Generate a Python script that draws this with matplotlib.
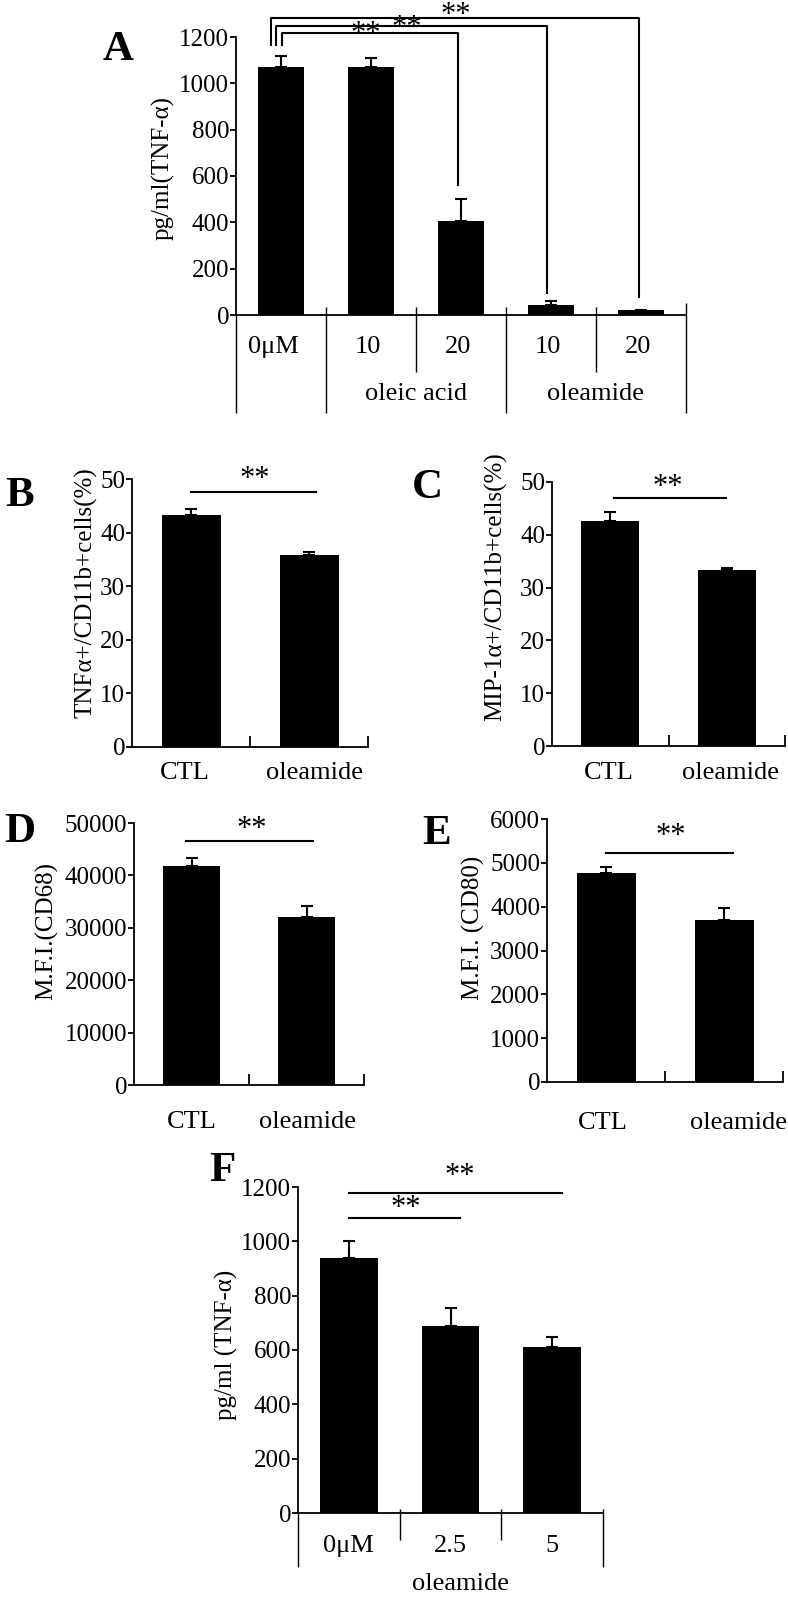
import numpy as np
import matplotlib
matplotlib.use('Agg')
import matplotlib.pyplot as plt

plt.rcParams['font.family'] = ['Liberation Serif', 'DejaVu Serif']
plt.rcParams['font.size'] = 18

# ---- data ----
a_cats = ['0μM', '10', '20', '10', '20']
a_groups = ['oleic acid', 'oleamide']
a_mean = [1070, 1070, 407, 42, 22]
a_err = [50, 40, 92, 18, 0]

two_cats = ['CTL', 'oleamide']
b_mean = [43.3, 35.8]
b_err = [1.1, 0.6]
c_mean = [42.6, 33.3]
c_err = [1.7, 0.4]
d_mean = [41700, 32000]
d_err = [1700, 2100]
e_mean = [4770, 3700]
e_err = [130, 270]

f_cats = ['0μM', '2.5', '5']
f_mean = [939, 688, 611]
f_err = [62, 67, 37]

W, H = 788, 1600
TICK_FS = 18
CAT_FS = 19
YLAB_FS = 18
LETTER_FS = 31
STAR_FS = 22

fig = plt.figure(figsize=(W / 100, H / 100), dpi=100)


def box(x0, x1, ytop, ybot):
    return [x0 / W, 1 - ybot / H, (x1 - x0) / W, (ybot - ytop) / H]


def ftext(x, y, s, **kw):
    fig.text(x / W, 1 - y / H, s, ha='center', va='center', **kw)


def base_style(ax, ylim, yticks):
    for s in ['top', 'right']:
        ax.spines[s].set_visible(False)
    for s in ['left', 'bottom']:
        ax.spines[s].set_linewidth(1.3)
    ax.set_ylim(*ylim)
    ax.set_yticks(yticks)
    ax.tick_params(axis='y', direction='out', length=4, width=1.3, pad=1, labelsize=TICK_FS)


def bars(ax, mean, err, width):
    x = np.arange(len(mean))
    ax.bar(x, mean, width=width, color='black')
    ax.errorbar(x, mean, yerr=[np.zeros(len(err)), err], fmt='none', ecolor='black',
                elinewidth=1.5, capsize=4, capthick=1.5)
    ax.set_xlim(-0.5, len(mean) - 0.5)


# ---- A ----
axA = fig.add_axes(box(236, 686, 37, 315))
bars(axA, a_mean, a_err, 0.51)
base_style(axA, (0, 1200), range(0, 1201, 200))
axA.set_xticks([])
tr = axA.get_xaxis_transform()
axA.vlines([-0.5, 0.5, 2.5, 4.5], [0, 0.029, 0.029, 0.043], -0.3525,
           transform=tr, clip_on=False, colors='black', lw=1.0)
axA.vlines([1.5, 3.5], 0.029, -0.205, transform=tr, clip_on=False, colors='black', lw=1.0)
for i, lab in enumerate(a_cats):
    axA.text(i - 0.08 if i == 0 else i - 0.03, -0.137, lab, transform=tr,
             ha='center', va='baseline', fontsize=CAT_FS)
axA.text(1.5, -0.306, a_groups[0], transform=tr, ha='center', va='baseline', fontsize=CAT_FS)
axA.text(3.5, -0.306, a_groups[1], transform=tr, ha='center', va='baseline', fontsize=CAT_FS)

# significance brackets
for xl, top, xr, drop in [(0.01, 1217, 1.97, 561), (-0.057, 1247, 2.96, 95), (-0.112, 1282, 3.98, 78)]:
    axA.plot([xl, xl, xr, xr], [1165, top, top, drop], color='black', lw=1.5, clip_on=False)
for xs, ys in [(0.94, 1180), (1.40, 1205), (1.94, 1262)]:
    axA.text(xs, ys, '**', ha='center', va='baseline', fontsize=STAR_FS, clip_on=False)
ftext(163, 168, 'pg/ml(TNF-α)', rotation=90, fontsize=YLAB_FS)
ftext(118, 50, 'A', fontsize=LETTER_FS, fontweight='bold')


# ---- B to E ----
def two_panel(rect, mean, err, ylim, yticks, lab_y, lab_x, sig, star, ylabel, ylab_xy, letter, letter_xy):
    ax = fig.add_axes(rect)
    bars(ax, mean, err, 0.5)
    base_style(ax, ylim, yticks)
    ax.set_xticks([0.5, 1.5])
    ax.set_xticklabels([])
    ax.tick_params(axis='x', direction='in', length=8, width=1.3)
    t = ax.get_xaxis_transform()
    for xl, lab in zip(lab_x, two_cats):
        ax.text(xl, lab_y, lab, transform=t, ha='center', va='baseline', fontsize=CAT_FS)
    ax.plot(sig[0], [sig[1], sig[1]], color='black', lw=1.5, clip_on=False)
    ax.text(star[0], star[1], '**', ha='center', va='baseline', fontsize=STAR_FS, clip_on=False)
    ftext(*ylab_xy, ylabel, rotation=90, fontsize=YLAB_FS)
    ftext(*letter_xy, letter, fontsize=LETTER_FS, fontweight='bold')
    return ax


two_panel(box(132, 368, 479, 747), b_mean, b_err, (0, 50), range(0, 51, 10), -0.119, [-0.05, 1.05],
          ([0.0, 1.06], 47.6), (0.54, 48.5), 'TNFα+/CD11b+cells(%)', (86, 593), 'B', (20, 496))
two_panel(box(552, 785, 482, 746), c_mean, c_err, (0, 50), range(0, 51, 10), -0.125, [-0.01, 1.03],
          ([0.03, 0.99], 47.0), (0.49, 47.6), 'MIP-1α+/CD11b+cells(%)', (496, 587), 'C', (427, 488))
two_panel(box(134, 364, 823, 1085), d_mean, d_err, (0, 50000), range(0, 50001, 10000), -0.164, [0.0, 1.01],
          ([-0.05, 1.06], 46560), (0.52, 47300), 'M.F.I.(CD68)', (47, 931), 'D', (20, 832))
two_panel(box(547, 783, 819, 1082), e_mean, e_err, (0, 6000), range(0, 6001, 1000), -0.179, [-0.03, 1.12],
          ([0.0, 1.08], 5224), (0.55, 5430), 'M.F.I. (CD80)', (473, 928), 'E', (437, 834))

# ---- F ----
axF = fig.add_axes(box(298, 603, 1187, 1513))
bars(axF, f_mean, f_err, 0.57)
base_style(axF, (0, 1200), range(0, 1201, 200))
axF.set_xticks([])
tf = axF.get_xaxis_transform()
axF.vlines([-0.5, 2.5], [0, 0.012], -0.166, transform=tf, clip_on=False, colors='black', lw=1.0)
axF.vlines([0.5, 1.5], 0.012, -0.083, transform=tf, clip_on=False, colors='black', lw=1.0)
for i, lab in enumerate(f_cats):
    axF.text(i, -0.12, lab, transform=tf, ha='center', va='baseline', fontsize=CAT_FS)
axF.text(1.1, -0.236, 'oleamide', transform=tf, ha='center', va='baseline', fontsize=CAT_FS)
axF.plot([0.0, 2.1], [1178, 1178], color='black', lw=1.5, clip_on=False)
axF.plot([0.0, 1.09], [1086, 1086], color='black', lw=1.5)
axF.text(1.09, 1212, '**', ha='center', va='baseline', fontsize=STAR_FS, clip_on=False)
axF.text(0.56, 1092, '**', ha='center', va='baseline', fontsize=STAR_FS)
ftext(226, 1345, 'pg/ml (TNF-α)', rotation=90, fontsize=YLAB_FS)
ftext(222, 1171, 'F', fontsize=LETTER_FS, fontweight='bold')

fig.savefig('out.png', dpi=100)
